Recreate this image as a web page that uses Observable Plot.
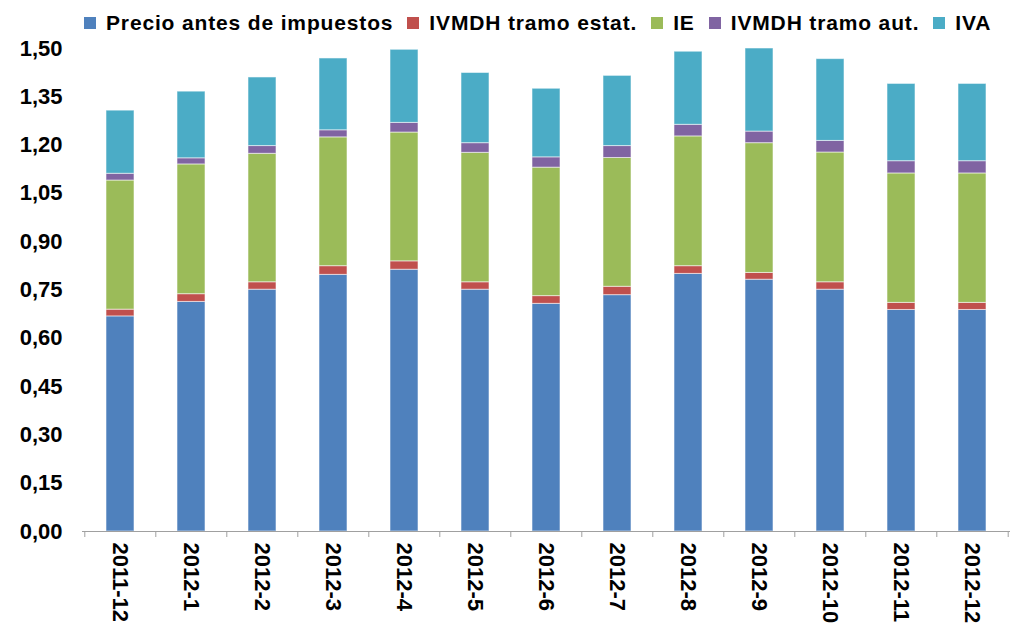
<!DOCTYPE html>
<html>
<head>
<meta charset="utf-8">
<script src="https://cdn.jsdelivr.net/npm/d3@7"></script>
<script src="https://cdn.jsdelivr.net/npm/@observablehq/plot@0.6"></script>
<style>
  html, body { margin: 0; padding: 0; background: #fff; }
  body { width: 1017px; height: 627px; overflow: hidden; font-family: "Liberation Sans", Arial, sans-serif; }
  #legend { height: 30px; box-sizing: border-box; padding-top: 11px; padding-left: 84px; display: flex; align-items: flex-start; overflow: visible; }
  .item { display: flex; align-items: center; margin-right: 14px; font-weight: bold; font-size: 21px; letter-spacing: 0.85px; line-height: 24px; height: 24px; color: #000; }
  .sw { width: 12px; height: 12px; margin-right: 10px; flex: none; }
</style>
</head>
<body>
<div id="legend"></div>
<div id="chart"></div>
<script>
const categories = ["2011-12","2012-1","2012-2","2012-3","2012-4","2012-5","2012-6","2012-7","2012-8","2012-9","2012-10","2012-11","2012-12"];
const seriesNames = ["Precio antes de impuestos","IVMDH tramo estat.","IE","IVMDH tramo aut.","IVA"];
const seriesColors = ["#4F81BD","#C0504D","#9BBB59","#8064A2","#4BACC6"];
const precio  = [0.668,0.713,0.751,0.797,0.813,0.751,0.707,0.734,0.800,0.782,0.751,0.688,0.688];
const estatal = [0.021,0.024,0.023,0.027,0.026,0.023,0.024,0.026,0.024,0.021,0.023,0.022,0.022];
const ie      = [0.401,0.403,0.399,0.400,0.400,0.402,0.399,0.400,0.403,0.403,0.403,0.402,0.402];
const autonom = [0.021,0.019,0.024,0.022,0.030,0.030,0.032,0.037,0.036,0.036,0.036,0.038,0.038];
const iva     = [0.196,0.207,0.213,0.223,0.227,0.218,0.213,0.218,0.227,0.258,0.254,0.240,0.240];
const yTicks = [0,0.15,0.30,0.45,0.60,0.75,0.90,1.05,1.20,1.35,1.50];

const seriesValues = [precio, estatal, ie, autonom, iva];
const data = [];
seriesNames.forEach((s, si) => {
  categories.forEach((c, ci) => data.push({cat: c, series: s, value: seriesValues[si][ci]}));
});

// legend
const legend = document.getElementById("legend");
seriesNames.forEach((s, i) => {
  const it = document.createElement("div");
  it.className = "item";
  const sw = document.createElement("span");
  sw.className = "sw";
  sw.style.background = seriesColors[i];
  const t = document.createElement("span");
  t.textContent = s;
  it.appendChild(sw); it.appendChild(t);
  legend.appendChild(it);
});

const W = 1017, H = 597, mL = 82, mR = 7, mT = 18, mB = 96;
const step = (W - mL - mR) / categories.length;
const axisColor = "#A0A0A0";

const chart = Plot.plot({
  width: W, height: H,
  marginLeft: mL, marginRight: mR, marginTop: mT, marginBottom: mB,
  style: "font: bold 22px 'Liberation Sans', Arial, sans-serif; color: #000; background: #fff;",
  x: {domain: categories, paddingInner: 0.6, paddingOuter: 0.3, axis: null},
  y: {domain: [0, 1.5], axis: null},
  color: {domain: seriesNames, range: seriesColors},
  marks: [
    Plot.barY(data, {x: "cat", y: "value", fill: "series", z: "series", order: seriesNames,
      stroke: "#fff", strokeOpacity: 0.55, strokeWidth: 1}),
    Plot.ruleY([0], {stroke: axisColor, strokeWidth: 1}),
    Plot.axisX({tickSize: 6, tickFormat: () => "", dx: -step / 2, stroke: axisColor, label: null}),
    Plot.axisX({ticks: [categories[categories.length - 1]], tickSize: 6, tickFormat: () => "", dx: step / 2, stroke: axisColor, label: null}),
    Plot.axisX({tickSize: 0, tickPadding: 11, tickRotate: 90, label: null}),
    Plot.axisY({ticks: yTicks, tickSize: 0, tickPadding: 20, label: null,
      tickFormat: d => d.toFixed(2).replace(".", ",")})
  ]
});
document.getElementById("chart").appendChild(chart);
</script>
</body>
</html>
